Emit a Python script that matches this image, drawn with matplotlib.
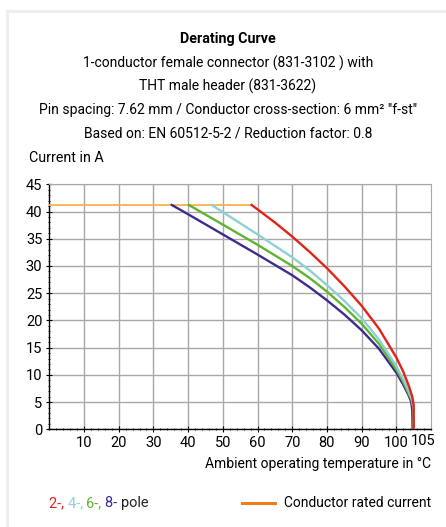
import matplotlib
matplotlib.use("Agg")
import matplotlib.pyplot as plt
from matplotlib.lines import Line2D
from matplotlib.ticker import MultipleLocator

plt.rcParams["font.family"] = ["Roboto", "DejaVu Sans"]

# derating curves (temperature in °C, current in A)
pole2_t = [58.3, 60, 65, 70, 75, 80, 85, 90, 95, 100, 102, 103.7, 104.6, 105.0, 105.0]
pole2_i = [41.2, 40.4, 38.0, 35.4, 32.6, 29.6, 26.3, 22.7, 18.5, 13.2, 10.6, 7.8, 6.0, 4.5, 0]

pole4_t = [46.8, 50, 60, 70, 75, 80, 85, 90, 95, 100, 102, 103.7, 104.7, 105.0, 105.0]
pole4_i = [41.2, 39.9, 35.8, 31.6, 29.2, 26.5, 23.6, 20.4, 16.5, 11.6, 9.2, 6.8, 5.2, 3.5, 0]

pole6_t = [40.2, 50, 60, 70, 75, 80, 85, 90, 95, 100, 102, 103.6, 104.6, 105.0, 105.1]
pole6_i = [41.2, 37.6, 33.9, 30.0, 27.8, 25.3, 22.5, 19.4, 15.7, 11.0, 8.7, 6.5, 5.0, 3.5, 0]

pole8_t = [35.3, 40, 50, 60, 70, 75, 80, 85, 90, 95, 100, 102, 103.5, 104.3, 104.6, 104.7]
pole8_i = [41.2, 39.5, 35.8, 32.1, 28.3, 26.1, 23.7, 21.1, 18.2, 14.8, 10.4, 8.2, 6.3, 5.0, 3.5, 0]

rated_t = [0, 58.3]
rated_i = [41.2, 41.2]

colors = ["#e32219", "#8fd0d4", "#5fb430", "#3b2c8e"]
rated_color = "#f6ad3c"
grid_color = "#a8a8a8"

fig = plt.figure(figsize=(4.46, 5.27), dpi=100)
ax = fig.add_axes([49.3 / 446, 1 - 429.3 / 527, (431 - 49.3) / 446, (429.3 - 184.3) / 527])

# card outline
fig.add_artist(Line2D([6.5 / 446, 6.5 / 446], [0, 1 - 10.5 / 527], color="#eeeeee", lw=2.2,
                      transform=fig.transFigure))
fig.add_artist(Line2D([6.5 / 446, 1], [1 - 10.5 / 527, 1 - 10.5 / 527], color="#eeeeee", lw=2.2,
                      transform=fig.transFigure))

ax.plot(rated_t, rated_i, color=rated_color, lw=1.2, zorder=3)
for t, i, c in zip([pole8_t, pole6_t, pole4_t, pole2_t], [pole8_i, pole6_i, pole4_i, pole2_i],
                   colors[::-1]):
    ax.plot(t, i, color=c, lw=1.7, zorder=4)

ax.set_xlim(0, 110)
ax.set_ylim(0, 45)
ax.set_xticks(range(10, 101, 10))
ax.set_yticks(range(0, 46, 5))
ax.xaxis.set_minor_locator(MultipleLocator(2))
ax.yaxis.set_minor_locator(MultipleLocator(1))
ax.grid(True, which="major", color=grid_color, lw=1.0)
ax.tick_params(which="major", direction="inout", length=4, width=0.8, labelsize=10.5, pad=3)
ax.tick_params(which="minor", direction="inout", length=2, width=0.6)
for s in ["top", "right"]:
    ax.spines[s].set_color(grid_color)
for s in ["left", "bottom"]:
    ax.spines[s].set_color("black")
    ax.spines[s].set_linewidth(1.0)
ax.set_axisbelow(True)

ax.text(107.6, -0.02, "105", transform=ax.get_xaxis_transform(), ha="center", va="top",
        fontsize=10.5)
ax.text(1.0, -0.115, "Ambient operating temperature in °C", transform=ax.transAxes,
        ha="right", va="top", fontsize=10)

fig.text(228 / 446, 1 - 39 / 527, "Derating Curve", ha="center", va="center", fontsize=10.3,
         fontweight="bold")
lines = ["1-conductor female connector (831-3102 ) with",
         "THT male header (831-3622)",
         "Pin spacing: 7.62 mm / Conductor cross-section: 6 mm² \"f-st\"",
         "Based on: EN 60512-5-2 / Reduction factor: 0.8"]
for k, s in enumerate(lines):
    fig.text(228 / 446, 1 - (63 + 23.5 * k) / 527, s, ha="center", va="center", fontsize=10)
fig.text(29 / 446, 1 - 158 / 527, "Current in A", ha="left", va="center", fontsize=10.3)

# legend row
fig.canvas.draw()
renderer = fig.canvas.get_renderer()
x = 49 / 446
ly = 1 - 503 / 527
for s, c in zip(["2-, ", "4-, ", "6-, ", "8- ", "pole"], colors + ["#222222"]):
    t = fig.text(x, ly, s, ha="left", va="center", fontsize=10.5, color=c)
    bb = t.get_window_extent(renderer)
    x += bb.width / fig.bbox.width
fig.add_artist(Line2D([242 / 446, 275 / 446], [ly, ly], color="#f07d1a", lw=2.2,
                      transform=fig.transFigure))
fig.text(431 / 446, ly, "Conductor rated current", ha="right", va="center", fontsize=10)

fig.savefig("out.png", dpi=100)
